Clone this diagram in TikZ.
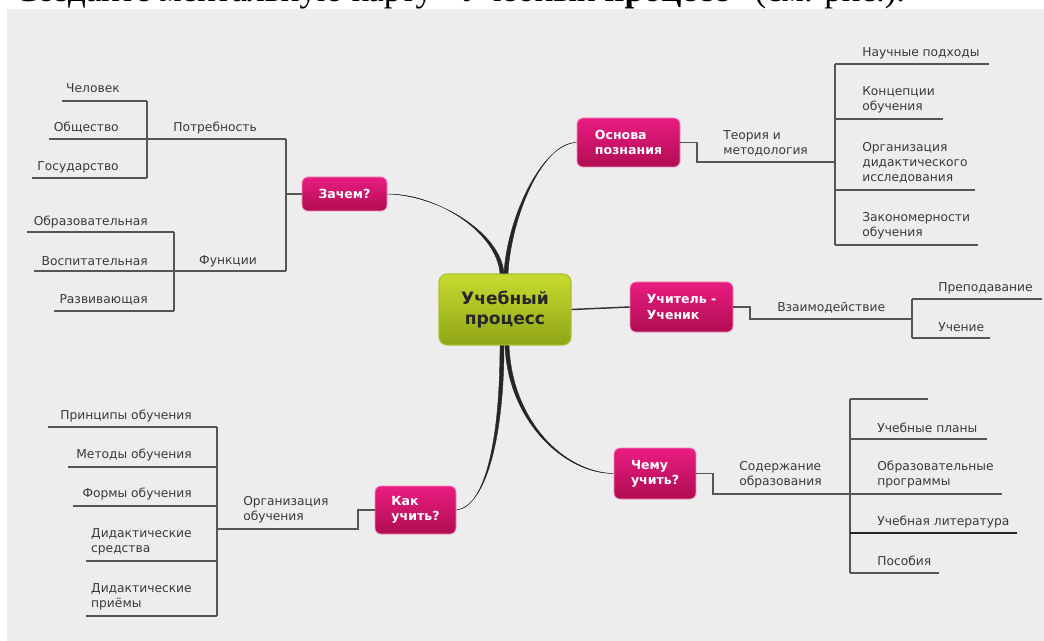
\documentclass[tikz,border=0pt]{standalone}
\usepackage{fontspec}
\setmainfont{DejaVu Sans}
\newfontfamily\headserif{Liberation Serif}
\usetikzlibrary{calc}
\definecolor{bg}{HTML}{EDEDED}
\definecolor{linec}{HTML}{555555}
\definecolor{txt}{HTML}{3A3A3A}
\definecolor{pinktop}{HTML}{EA1C82}
\definecolor{pinkbot}{HTML}{B00D52}
\definecolor{pinkedge}{HTML}{F08BBA}
\definecolor{greentop}{HTML}{C8DB30}
\definecolor{greenbot}{HTML}{8FA516}
\definecolor{greenedge}{HTML}{A9C030}
\begin{document}
\begin{tikzpicture}[x=0.75pt,y=-0.75pt,
  hub/.style={rounded corners=4.5pt, top color=pinktop, bottom color=pinkbot, draw=pinkedge, line width=0.6pt, text=white, font=\bfseries\fontsize{9.4}{11.5}\selectfont, align=left, inner sep=0pt},
  core/.style={rounded corners=6pt, top color=greentop, bottom color=greenbot, draw=greenedge, line width=0.8pt, text=black!85, font=\bfseries\fontsize{12.8}{15.5}\selectfont, align=center, inner sep=0pt},
  lbl/.style={text=txt, font=\fontsize{9.2}{11.25}\selectfont, inner sep=0pt, align=left},
  br/.style={draw=linec, line width=1pt},
  trunk/.style={fill=black!85, draw=black!85, line width=0.3pt},
]
\useasboundingbox (0,0) rectangle (1044,641);
\fill[bg] (7,9) rectangle (1044,641);
\node[anchor=base west, inner sep=0pt, font=\headserif\fontsize{26.2}{30}\selectfont] (title) at (14,2) {Создайте ментальную карту «Учебный \textbf{процесс}» (см. рис.).};

% main nodes
\node[core, minimum width=99pt, minimum height=53.25pt] (core) at (505,309.5) {Учебный\\процесс};
\node[hub, minimum width=63.75pt, minimum height=25.5pt, align=center] (zach) at (344.5,194) {Зачем?};
\node[hub, minimum width=77.25pt, minimum height=36.75pt] (osn) at (628.5,142.5) {Основа\\познания};
\node[hub, minimum width=77.25pt, minimum height=37.5pt] (uch) at (681.5,307) {Учитель -\\Ученик};
\node[hub, minimum width=60.75pt, minimum height=36pt] (kak) at (415.5,510) {Как\\учить?};
\node[hub, minimum width=61.5pt, minimum height=38.25pt] (chemu) at (655,473.5) {Чему\\учить?};

% trunks (tapered)
\fill[trunk] (zach.east) .. controls ($(zach.east)+(52,0)$) and ($(core.north)+(-8,-40)$) .. ($(core.north)+(-5,0)$)
  -- ($(core.north)+(-1,0)$) .. controls ($(core.north)+(-4,-40)$) and ($(zach.east)+(52,1.2)$) .. (zach.east);
\fill[trunk] (osn.west) .. controls ($(osn.west)+(-35,0)$) and ($(core.north)+(6,-55)$) .. ($(core.north)+(3,0)$)
  -- ($(core.north)+(-1,0)$) .. controls ($(core.north)+(2,-55)$) and ($(osn.west)+(-35,1.2)$) .. (osn.west);
\fill[trunk] (kak.east) .. controls ($(kak.east)+(30,-3)$) and ($(core.south)+(-5,90)$) .. ($(core.south)+(-5,0)$)
  -- ($(core.south)+(-1,0)$) .. controls ($(core.south)+(-1,90)$) and ($(kak.east)+(30,-4.2)$) .. (kak.east);
\fill[trunk] (chemu.west) .. controls ($(chemu.west)+(-50,0)$) and ($(core.south)+(3,75)$) .. ($(core.south)+(0,0)$)
  -- ($(core.south)+(4,0)$) .. controls ($(core.south)+(7,75)$) and ($(chemu.west)+(-50,-1.2)$) .. (chemu.west);
\draw[black!80, line width=1.1pt] (core.east) -- (uch.west);

% ---- Зачем? branch
\coordinate (zJ) at (286,194);
\coordinate (zT) at (286,139);
\coordinate (zB) at (286,271);
\coordinate (zTe) at (49,139);
\coordinate (zBe) at (34,271);
\draw[br] (zach.west) -- (zJ);
\draw[br] (zT) -- (zB);
\draw[br] (zT) -- (zTe);
\draw[br] (zB) -- (zBe);
\node[lbl, anchor=east] (potr) at (257,128) {Потребность};
\node[lbl, anchor=east] (func) at (257,261) {Функции};
\coordinate (pT) at (147,101);
\coordinate (pB) at (147,178);
\coordinate (pTe) at (62,101);
\coordinate (pBe) at (32,178);
\draw[br] (pT) -- (pB);
\draw[br] (pT) -- (pTe);
\draw[br] (pB) -- (pBe);
\node[lbl, anchor=east] (chel) at (120,88) {Человек};
\node[lbl, anchor=east] (obsh) at (119,128) {Общество};
\node[lbl, anchor=east] (gos) at (119,167) {Государство};
\coordinate (fT) at (174,232);
\coordinate (fB) at (174,311);
\coordinate (fTe) at (27,232);
\coordinate (fBe) at (54,311);
\draw[br] (fT) -- (fB);
\draw[br] (fT) -- (fTe);
\draw[br] (fB) -- (fBe);
\node[lbl, anchor=east] (obr) at (148,222) {Образовательная};
\node[lbl, anchor=east] (vosp) at (148,261) {Воспитательная};
\node[lbl, anchor=east] (razv) at (148,300) {Развивающая};

% ---- Основа познания branch
\coordinate (oK) at (697,162);
\coordinate (oJ) at (835,162);
\coordinate (oT) at (835,64);
\coordinate (oB) at (835,245);
\draw[br] (osn.east) -| (oK) -- (oJ);
\draw[br] (oT) -- (oB);
\node[lbl, anchor=west] (teor) at (723,143.5) {Теория и\\методология};
\coordinate (o1) at (989,64);
\coordinate (o2s) at (835,119);
\coordinate (o2) at (943,119);
\coordinate (o3s) at (835,190);
\coordinate (o3) at (975,190);
\coordinate (o4) at (978,245);
\draw[br] (oT) -- (o1);
\draw[br] (o2s) -- (o2);
\draw[br] (o3s) -- (o3);
\draw[br] (oB) -- (o4);
\node[lbl, anchor=west] (nauch) at (862,53) {Научные подходы};
\node[lbl, anchor=west] (konc) at (862,99.5) {Концепции\\обучения};
\node[lbl, anchor=west] (org) at (862,162.5) {Организация\\дидактического\\исследования};
\node[lbl, anchor=west] (zak) at (862,225.5) {Закономерности\\обучения};

% ---- Учитель - Ученик branch
\coordinate (uK) at (750,319);
\coordinate (uJ) at (912,319);
\coordinate (uT) at (912,299);
\coordinate (uB) at (912,338);
\draw[br] (uch.east) -| (uK) -- (uJ);
\draw[br] (uT) -- (uB);
\coordinate (u1) at (1042,299);
\coordinate (u2) at (990,338);
\draw[br] (uT) -- (u1);
\draw[br] (uB) -- (u2);
\node[lbl, anchor=west] (vzaim) at (777,308) {Взаимодействие};
\node[lbl, anchor=west] (prep) at (938,288) {Преподавание};
\node[lbl, anchor=west] (uchen) at (938,327) {Учение};

% ---- Как учить? branch
\coordinate (kK) at (358,529);
\coordinate (kJ) at (217,529);
\coordinate (kT) at (217,427);
\coordinate (kB) at (217,616);
\draw[br] (kak.west) -| (kK) -- (kJ);
\draw[br] (kT) -- (kB);
\node[lbl, anchor=west] (orgob) at (243,510) {Организация\\обучения};
\coordinate (k1) at (48,427);
\coordinate (k2s) at (217,467);
\coordinate (k2) at (68,467);
\coordinate (k3s) at (217,506);
\coordinate (k3) at (73,506);
\coordinate (k4s) at (217,561);
\coordinate (k4) at (86,561);
\coordinate (k5) at (86,616);
\draw[br] (kT) -- (k1);
\draw[br] (k2s) -- (k2);
\draw[br] (k3s) -- (k3);
\draw[br] (k4s) -- (k4);
\draw[br] (kB) -- (k5);
\node[lbl, anchor=east] (princ) at (192,416) {Принципы обучения};
\node[lbl, anchor=east] (metod) at (192,455) {Методы обучения};
\node[lbl, anchor=east] (form) at (192,494) {Формы обучения};
\node[lbl, anchor=east] (sredst) at (192,541.5) {Дидактические\\средства};
\node[lbl, anchor=east] (priem) at (192,596.5) {Дидактические\\приёмы};

% ---- Чему учить? branch
\coordinate (cK) at (713,494);
\coordinate (cJ) at (850,494);
\coordinate (cT) at (850,399);
\coordinate (cB) at (850,573);
\draw[br] (chemu.east) -| (cK) -- (cJ);
\draw[br] (cT) -- (cB);
\node[lbl, anchor=west] (soder) at (739,474.5) {Содержание\\образования};
\coordinate (c1) at (928,399);
\coordinate (c2s) at (850,439);
\coordinate (c2) at (987,439);
\coordinate (c3) at (1002,494);
\coordinate (c4s) at (850,533);
\coordinate (c4) at (1017,533);
\coordinate (c5) at (939,573);
\draw[br] (cT) -- (c1);
\draw[br] (c2s) -- (c2);
\draw[br] (cJ) -- (c3);
\draw[br, draw=black!85] (c4s) -- (c4);
\draw[br] (cB) -- (c5);
\node[lbl, anchor=west] (uplan) at (877,428) {Учебные планы};
\node[lbl, anchor=west] (oprog) at (877,474.5) {Образовательные\\программы};
\node[lbl, anchor=west] (ulit) at (877,522) {Учебная литература};
\node[lbl, anchor=west] (posob) at (877,561) {Пособия};
\end{tikzpicture}
\end{document}
